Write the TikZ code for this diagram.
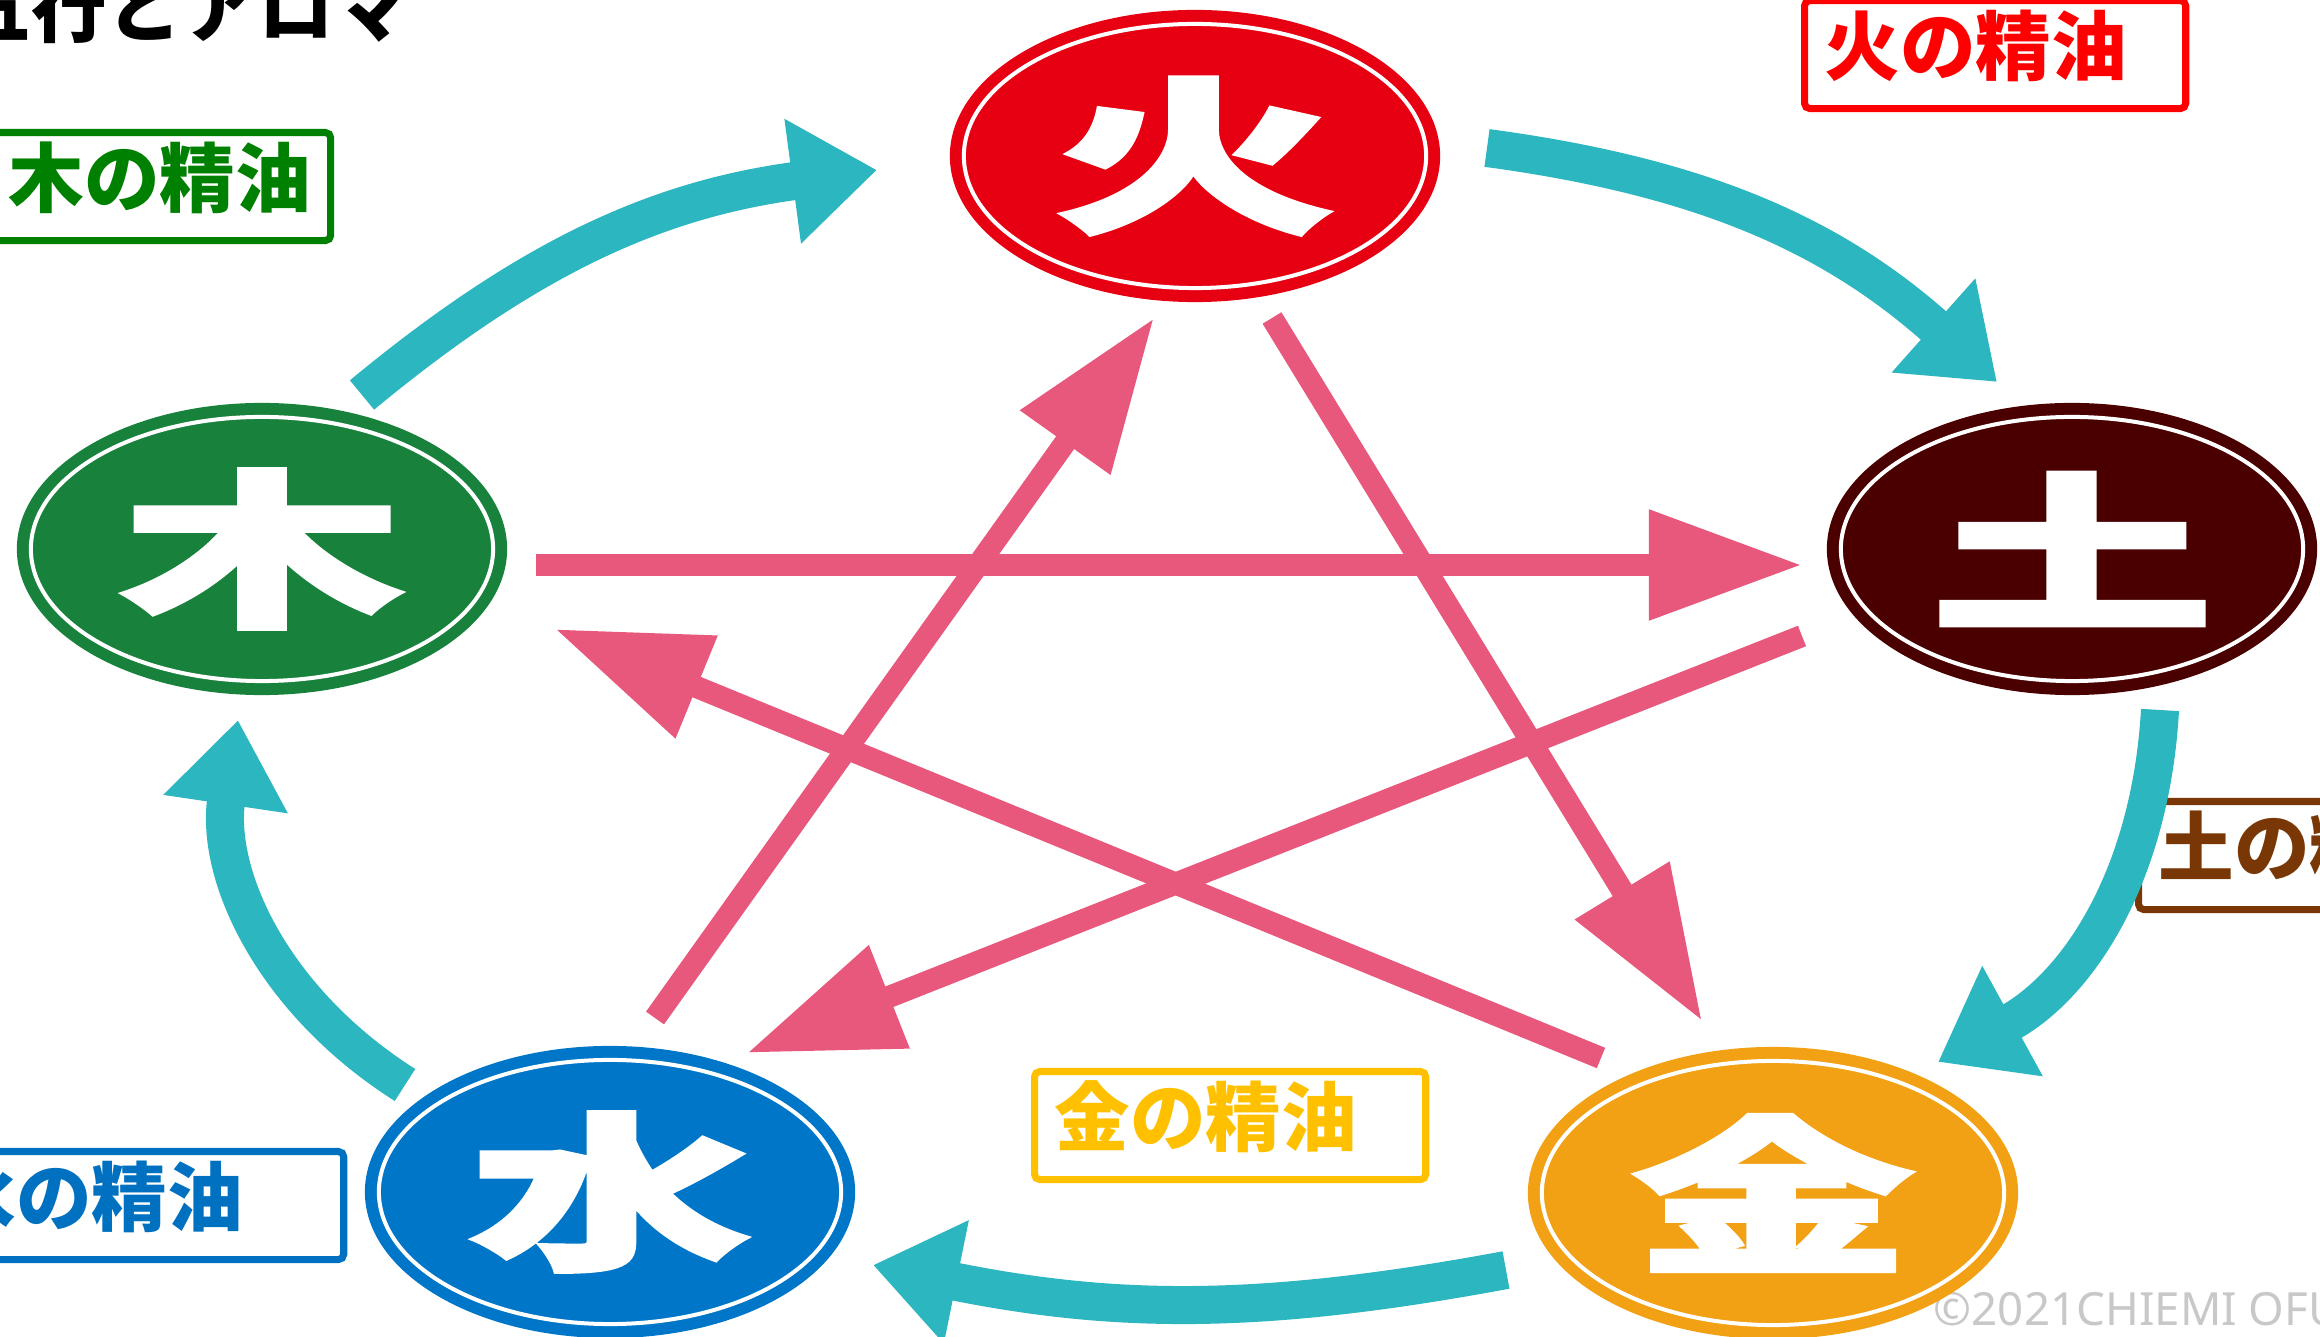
\documentclass[tikz,border=0pt]{standalone}
\usepackage{fontspec}
\newfontfamily\cjk{Noto Sans CJK JP}
\newfontfamily\cjkheavy{Noto Sans CJK JP}[BoldFeatures={FakeBold=2}]
\newfontfamily\credit{Noto Sans}
\usetikzlibrary{shapes.geometric,arrows.meta}

\definecolor{firered}{RGB}{230,0,18}
\definecolor{earthbrown}{RGB}{75,0,0}
\definecolor{woodgreen}{RGB}{24,130,60}
\definecolor{waterblue}{RGB}{0,118,200}
\definecolor{metalgold}{RGB}{242,160,20}
\definecolor{cycleteal}{RGB}{44,182,192}
\definecolor{starpink}{RGB}{232,88,125}
\definecolor{firelabel}{RGB}{255,0,0}
\definecolor{earthlabel}{RGB}{120,55,5}
\definecolor{woodlabel}{RGB}{0,128,0}
\definecolor{waterlabel}{RGB}{0,112,192}
\definecolor{metallabel}{RGB}{255,192,0}
\definecolor{creditgray}{RGB}{200,200,200}

\tikzset{
  elem/.style={ellipse, inner sep=0pt, minimum width=4.9cm, minimum height=2.92cm,
    text=white, font=\cjkheavy\bfseries\fontsize{48}{48}\selectfont},
  oilbox/.style={draw, line width=2pt, rounded corners=1.5pt, anchor=north west,
    minimum height=1.08cm, inner xsep=0.2cm, inner ysep=0.02cm,
    text height=0.7cm, text depth=0.3cm, align=left,
    font=\cjk\bfseries\fontsize{21.5}{21.5}\selectfont},
  cyclearrow/.style={draw=cycleteal, line width=0.38cm, -{Triangle[length=0.85cm,width=1.2cm]}},
  stararrow/.style={draw=starpink, line width=0.22cm, -{Triangle[length=1.53cm,width=1.05cm]}}
}

\begin{document}
\begin{tikzpicture}[x=0.01cm, y=-0.01cm]
    \useasboundingbox (0,0) rectangle (2320,1337);

    % title and credit
    \node[anchor=base west, inner sep=0pt, font=\cjk\bfseries\fontsize{21.5}{21.5}\selectfont] (title) at (-45,37) {五行とアロマ};
    \node[anchor=base west, inner sep=0pt, text=creditgray, font=\credit\fontsize{13}{13}\selectfont] (credit) at (1933,1325) {©2021CHIEMI OFU};

    % the five elements
    \node[elem, fill=firered] (fire) at (1195,156) {\scalebox{1.68}[1]{火}};
    \node[elem, fill=earthbrown] (earth) at (2072,549) {\scalebox{1.68}[1]{土}};
    \node[elem, fill=woodgreen] (wood) at (262,549) {\scalebox{1.68}[1]{木}};
    \node[elem, fill=waterblue] (water) at (610,1192) {\scalebox{1.68}[1]{水}};
    \node[elem, fill=metalgold] (metal) at (1773,1193) {\scalebox{1.68}[1]{金}};
    \foreach \n in {fire,earth,wood,water,metal}
        \draw[white, line width=0.04cm] (\n.center) ellipse [x radius=2.31cm, y radius=1.32cm];

    % essential oil labels
    \node[oilbox, draw=firelabel, text=firelabel, text width=3.41cm] (fireoil) at (1801,-3) {火の精油};
    \node[oilbox, draw=earthlabel, text=earthlabel, text width=3.41cm] (earthoil) at (2135,798) {土の精油};
    \node[oilbox, draw=woodlabel, text=woodlabel, text width=3.02cm] (woodoil) at (-15,129) {木の精油};
    \node[oilbox, draw=waterlabel, text=waterlabel, text width=3.83cm] (wateroil) at (-83,1148) {水の精油};
    \node[oilbox, draw=metallabel, text=metallabel, text width=3.51cm] (metaloil) at (1031,1068) {金の精油};

    % generating cycle
    \draw[cyclearrow] ([shift={(100,-154)}]wood.center) to[bend left=16] ([shift={(-318,14)}]fire.center);
    \draw[cyclearrow] ([shift={(292,-8)}]fire.center) to[bend left=17] ([shift={(-75,-167)}]earth.center);
    \draw[cyclearrow] ([shift={(88,161)}]earth.center) to[bend left=29] ([shift={(165,-131)}]metal.center);
    \draw[cyclearrow] ([shift={(-267,77)}]metal.center) to[bend left=11] ([shift={(263,73)}]water.center);
    \draw[cyclearrow] ([shift={(-205,-107)}]water.center) to[bend left=33] ([shift={(-24,171)}]wood.center);

    % controlling star
    \draw[stararrow] ([shift={(274,16)}]wood.center) -- ([shift={(-270,16)}]earth.center);
    \draw[stararrow] ([shift={(-270,87)}]earth.center) -- ([shift={(137,-139)}]water.center);
    \draw[stararrow] ([shift={(45,-174)}]water.center) -- ([shift={(-41,162)}]fire.center);
    \draw[stararrow] ([shift={(77,162)}]fire.center) -- ([shift={(-71,-172)}]metal.center);
    \draw[stararrow] ([shift={(-172,-135)}]metal.center) -- ([shift={(293,80)}]wood.center);
\end{tikzpicture}
\end{document}
